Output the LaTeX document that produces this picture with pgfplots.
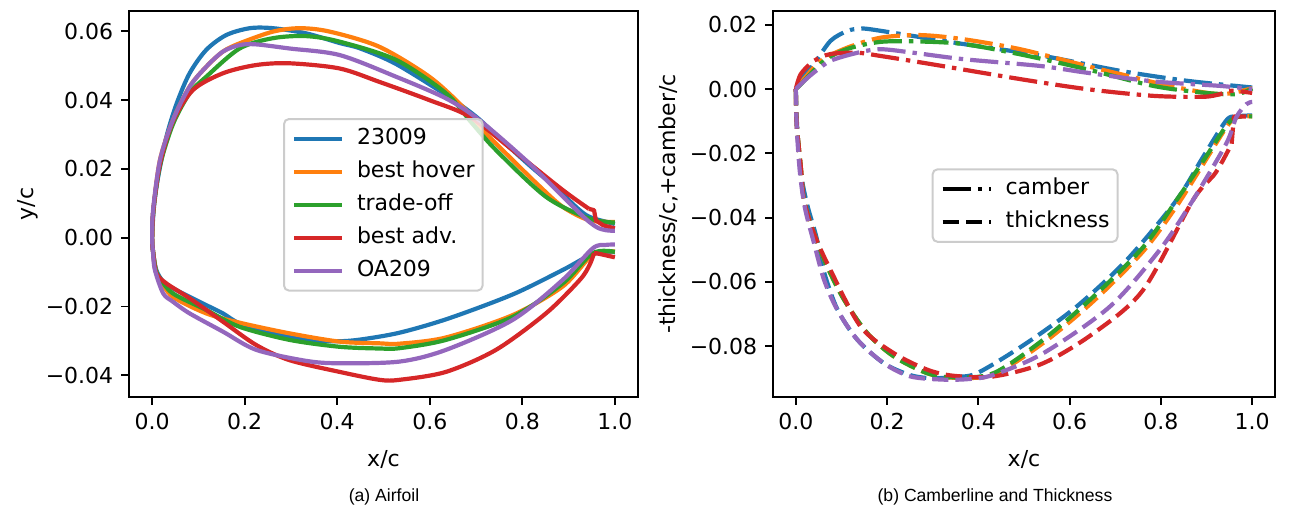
\documentclass[border=0pt]{standalone}
\usepackage{pgfplots}
\pgfplotsset{compat=1.18}
\usepackage{fontspec}
\setmainfont{DejaVu Sans}
\newfontfamily\capfont{Liberation Sans}
\definecolor{C0}{HTML}{1F77B4}
\definecolor{C1}{HTML}{FF7F0E}
\definecolor{C2}{HTML}{2CA02C}
\definecolor{C3}{HTML}{D62728}
\definecolor{C4}{HTML}{9467BD}
\tikzset{
  mpldashed/.style={dash pattern=on 8.14pt off 3.52pt},
  mpldashdot/.style={dash pattern=on 14.1pt off 3.52pt on 2.2pt off 3.52pt},
}
\pgfplotsset{
  mplaxis/.style={
    scale only axis, height=193pt,
    xmin=-0.05, xmax=1.05,
    axis line style={line width=0.88pt},
    tick style={line width=0.88pt, black},
    major tick length=3.85pt,
    tick align=outside, tick pos=left,
    xtick={0,0.2,0.4,0.6,0.8,1.0},
    xticklabels={0.0,0.2,0.4,0.6,0.8,1.0},
    tick label style={font=\fontsize{11}{13}\selectfont, inner sep=0pt},
    xticklabel style={anchor=north, yshift=-3.85pt},
    yticklabel style={anchor=east, xshift=-3.85pt},
    label style={font=\fontsize{11}{13}\selectfont},
    xlabel={x/c},
    xlabel style={at={(axis description cs:0.5,-0.1632)}, anchor=center},
    every axis plot/.append style={line width=2.1pt, line join=round},
    legend cell align=left,
    legend image code/.code={\draw[##1, line width=2.1pt] (0pt,0pt) -- (24pt,0pt);},
    legend style={draw=black!20, line width=1pt, rounded corners=2.5pt, fill=white,
      fill opacity=0.8, text opacity=1, draw opacity=1,
      font=\fontsize{11}{13}\selectfont, inner xsep=4pt, inner ysep=4.4pt,
      row sep=5.5pt,
      nodes={inner sep=0pt, text height=8.25pt, text depth=2.75pt},
      /tikz/every odd column/.append style={column sep=6.4pt}},
  }
}
\begin{document}
\begin{tikzpicture}[x=1pt,y=1pt]
\path[use as bounding box] (0,0) rectangle (646,260);
% ---------------- left panel ----------------
\begin{axis}[mplaxis, at={(64.5pt,61.5pt)}, anchor=south west, width=254.5pt,
  ymin=-0.0463, ymax=0.0659,
  ytick={-0.04,-0.02,0,0.02,0.04,0.06},
  yticklabels={−0.04,−0.02,0.00,0.02,0.04,0.06},
  ylabel={y/c},
  ylabel style={at={(axis description cs:-0.198,0.5)}, anchor=center, rotate=0},
  legend style={at={(axis description cs:0.3026,0.7228)}, anchor=north west},
]
\addplot[C0, smooth, tension=0.5] coordinates {
(1.000,0.0040)(0.950,0.0058)(0.924,0.0080)(0.870,0.0148)(0.815,0.0211)(0.750,0.0290)
(0.700,0.0352)(0.635,0.0415)(0.527,0.0505)(0.450,0.0550)(0.405,0.0566)(0.333,0.0594)
(0.261,0.0609)(0.211,0.0609)(0.160,0.0589)(0.117,0.0546)(0.081,0.0478)(0.053,0.0390)
(0.031,0.0294)(0.013,0.0177)(0.004,0.0090)(0.000,0.0000)(0.002,-0.0040)(0.009,-0.0094)
(0.024,-0.0128)(0.045,-0.0147)(0.081,-0.0172)(0.117,-0.0196)(0.153,-0.0220)(0.189,-0.0249)
(0.261,-0.0278)(0.333,-0.0297)(0.400,-0.0301)(0.450,-0.0296)(0.535,-0.0276)(0.640,-0.0235)
(0.779,-0.0165)(0.887,-0.0094)(0.952,-0.0048)(1.000,-0.0042)};
\addlegendentry{23009}
\addplot[C1, smooth, tension=0.5] coordinates {
(1.000,0.0046)(0.944,0.0051)(0.887,0.0090)(0.833,0.0155)(0.779,0.0226)(0.720,0.0305)
(0.671,0.0381)(0.599,0.0468)(0.491,0.0555)(0.384,0.0599)(0.319,0.0609)(0.261,0.0599)
(0.189,0.0565)(0.153,0.0541)(0.117,0.0497)(0.081,0.0439)(0.045,0.0342)(0.017,0.0226)
(0.003,0.0085)(0.000,0.0000)(0.002,-0.0040)(0.008,-0.0095)(0.017,-0.0123)(0.045,-0.0172)
(0.117,-0.0220)(0.189,-0.0247)(0.297,-0.0278)(0.405,-0.0302)(0.491,-0.0307)(0.535,-0.0308)
(0.635,-0.0290)(0.779,-0.0225)(0.887,-0.0142)(0.952,-0.0050)(1.000,-0.0040)};
\addlegendentry{best hover}
\addplot[C2, smooth, tension=0.5] coordinates {
(1.000,0.0044)(0.944,0.0056)(0.851,0.0119)(0.743,0.0255)(0.690,0.0335)(0.635,0.0420)
(0.527,0.0517)(0.405,0.0570)(0.333,0.0586)(0.261,0.0580)(0.189,0.0550)(0.117,0.0468)
(0.081,0.0420)(0.045,0.0330)(0.017,0.0210)(0.003,0.0085)(0.000,0.0000)(0.002,-0.0040)
(0.008,-0.0095)(0.017,-0.0118)(0.045,-0.0162)(0.117,-0.0210)(0.189,-0.0259)(0.297,-0.0297)
(0.405,-0.0317)(0.491,-0.0322)(0.535,-0.0321)(0.635,-0.0297)(0.779,-0.0230)(0.887,-0.0133)
(0.952,-0.0045)(1.000,-0.0041)};
\addlegendentry{trade-off}
\addplot[C3, smooth, tension=0.5] coordinates {
(0.944,0.0084)(0.887,0.0139)(0.779,0.0255)(0.686,0.0352)(0.599,0.0400)(0.491,0.0453)
(0.405,0.0492)(0.297,0.0507)(0.225,0.0502)(0.153,0.0478)(0.088,0.0429)(0.045,0.0338)
(0.017,0.0215)(0.003,0.0085)(0.000,0.0000)(0.002,-0.0040)(0.009,-0.0103)(0.031,-0.0133)
(0.081,-0.0176)(0.153,-0.0244)(0.225,-0.0312)(0.297,-0.0356)(0.405,-0.0390)(0.491,-0.0413)
(0.535,-0.0413)(0.635,-0.0390)(0.743,-0.0326)(0.851,-0.0220)(0.924,-0.0123)(0.945,-0.0080)
(0.955,-0.0045)};
\addlegendentry{best adv.}
\addplot[C3, forget plot] coordinates {(1.000,0.0027)(0.975,0.0036)(0.959,0.0050)(0.955,0.0080)(0.944,0.0084)};
\addplot[C3, forget plot] coordinates {(0.955,-0.0045)(0.960,-0.0045)(1.000,-0.0057)};
\addplot[C4, smooth, tension=0.5] coordinates {
(1.000,0.0020)(0.980,0.0022)(0.959,0.0032)(0.924,0.0071)(0.815,0.0216)(0.707,0.0342)
(0.635,0.0405)(0.527,0.0468)(0.405,0.0531)(0.297,0.0550)(0.225,0.0562)(0.189,0.0560)
(0.153,0.0541)(0.117,0.0497)(0.081,0.0439)(0.045,0.0342)(0.017,0.0226)(0.002,0.0080)
(0.000,0.0000)(0.002,-0.0045)(0.006,-0.0094)(0.024,-0.0162)(0.045,-0.0186)(0.081,-0.0220)
(0.153,-0.0273)(0.225,-0.0326)(0.333,-0.0358)(0.405,-0.0365)(0.535,-0.0360)(0.635,-0.0326)
(0.779,-0.0239)(0.887,-0.0123)(0.952,-0.0031)(0.980,-0.0021)(1.000,-0.0020)};
\addlegendentry{OA209}
\end{axis}
% ---------------- right panel ----------------
\begin{axis}[mplaxis, at={(386.5pt,61.5pt)}, anchor=south west, width=251pt,
  ymin=-0.0958, ymax=0.0243,
  ytick={-0.08,-0.06,-0.04,-0.02,0,0.02},
  yticklabels={−0.08,−0.06,−0.04,−0.02,0.00,0.02},
  ylabel={-thickness/c,+camber/c},
  ylabel style={at={(axis description cs:-0.208,0.5)}, anchor=center},
  legend style={at={(axis description cs:0.316,0.5925)}, anchor=north west},
]
\addlegendimage{black, line width=2.1pt, mpldashdot}
\addlegendentry{camber}
\addlegendimage{black, line width=2.1pt, mpldashed}
\addlegendentry{thickness}
% cambers
\addplot[C0, mpldashdot, smooth, tension=0.5, forget plot] coordinates {
(0,0)(0.004,0.0010)(0.020,0.0045)(0.040,0.0078)(0.076,0.0150)(0.113,0.0181)(0.140,0.0188)
(0.164,0.0186)(0.258,0.0165)(0.368,0.0140)(0.535,0.0105)(0.710,0.0057)(0.856,0.0026)(1.000,0.0005)};
\addplot[C1, mpldashdot, smooth, tension=0.5, forget plot] coordinates {
(0,0)(0.011,0.0020)(0.055,0.0088)(0.113,0.0129)(0.186,0.0160)(0.273,0.0168)(0.368,0.0155)
(0.492,0.0124)(0.637,0.0072)(0.710,0.0047)(0.819,0.0010)(0.929,-0.0016)(1.000,0.0003)};
\addplot[C2, mpldashdot, smooth, tension=0.5, forget plot] coordinates {
(0,0)(0.011,0.0015)(0.062,0.0088)(0.113,0.0125)(0.186,0.0147)(0.273,0.0148)(0.368,0.0140)
(0.492,0.0108)(0.637,0.0062)(0.783,0.0010)(0.892,-0.0011)(0.965,-0.0016)(1.000,0.0002)};
\addplot[C3, mpldashdot, smooth, tension=0.5, forget plot] coordinates {
(0,0)(0.011,0.0047)(0.040,0.0088)(0.076,0.0109)(0.135,0.0113)(0.186,0.0103)(0.295,0.0078)
(0.492,0.0031)(0.637,0.0000)(0.783,-0.0021)(0.892,-0.0024)(0.929,-0.0016)(0.955,-0.0005)(1.000,-0.0012)};
\addplot[C4, mpldashdot, smooth, tension=0.5, forget plot] coordinates {
(0,0)(0.018,0.0025)(0.040,0.0052)(0.076,0.0088)(0.135,0.0113)(0.186,0.0124)(0.258,0.0113)
(0.368,0.0093)(0.535,0.0072)(0.637,0.0051)(0.783,0.0024)(0.929,0.0010)(1.000,0.0000)};
% thickness
\addplot[C0, mpldashed, smooth, tension=0.5, forget plot] coordinates {
(0,0)(0.003,-0.0120)(0.011,-0.0260)(0.025,-0.0360)(0.045,-0.0460)(0.062,-0.0570)(0.091,-0.0685)
(0.135,-0.0780)(0.193,-0.0853)(0.251,-0.0890)(0.300,-0.0900)(0.346,-0.0895)(0.397,-0.0884)
(0.506,-0.0790)(0.615,-0.0677)(0.725,-0.0532)(0.834,-0.0346)(0.892,-0.0212)(0.943,-0.0098)
(0.965,-0.0085)(1.000,-0.0082)};
\addplot[C1, mpldashed, smooth, tension=0.5, forget plot] coordinates {
(0,0)(0.002,-0.0110)(0.011,-0.0243)(0.018,-0.0346)(0.040,-0.0450)(0.069,-0.0553)(0.106,-0.0656)
(0.157,-0.0760)(0.215,-0.0832)(0.288,-0.0884)(0.346,-0.0898)(0.433,-0.0888)(0.542,-0.0790)
(0.652,-0.0660)(0.761,-0.0505)(0.834,-0.0365)(0.892,-0.0235)(0.943,-0.0120)(0.965,-0.0088)(1.000,-0.0085)};
\addplot[C2, mpldashed, smooth, tension=0.5, forget plot] coordinates {
(0,0)(0.002,-0.0110)(0.011,-0.0243)(0.018,-0.0346)(0.040,-0.0450)(0.069,-0.0553)(0.106,-0.0656)
(0.157,-0.0760)(0.215,-0.0832)(0.288,-0.0884)(0.346,-0.0897)(0.433,-0.0884)(0.542,-0.0780)
(0.652,-0.0646)(0.761,-0.0492)(0.834,-0.0346)(0.892,-0.0225)(0.943,-0.0115)(0.965,-0.0088)(1.000,-0.0085)};
\addplot[C3, mpldashed, smooth, tension=0.5, forget plot] coordinates {
(0,0)(0.002,-0.0110)(0.011,-0.0243)(0.018,-0.0346)(0.040,-0.0450)(0.076,-0.0563)(0.142,-0.0739)
(0.215,-0.0822)(0.288,-0.0873)(0.346,-0.0892)(0.433,-0.0894)(0.542,-0.0853)(0.652,-0.0760)
(0.761,-0.0625)(0.870,-0.0346)(0.920,-0.0260)(0.955,-0.0170)};
\addplot[C3, mpldashed, forget plot] coordinates {(0.955,-0.0170)(0.960,-0.0085)(1.000,-0.0085)};
\addplot[C4, mpldashed, smooth, tension=0.5, forget plot] coordinates {
(0,0)(0.002,-0.0120)(0.009,-0.0260)(0.020,-0.0370)(0.040,-0.0480)(0.062,-0.0594)(0.091,-0.0687)
(0.135,-0.0780)(0.193,-0.0853)(0.251,-0.0894)(0.324,-0.0904)(0.380,-0.0902)(0.433,-0.0889)
(0.542,-0.0822)(0.688,-0.0677)(0.797,-0.0501)(0.870,-0.0346)(0.943,-0.0170)(0.965,-0.0088)
(0.987,-0.0047)(1.000,-0.0040)};
\end{axis}
\node[font=\capfont\fontsize{8.8}{10}\selectfont, anchor=center] at (192,11.5) {(a)\ Airfoil};
\node[font=\capfont\fontsize{8.8}{10}\selectfont, anchor=center] at (497.5,11.5) {(b)\ Camberline and Thickness};
\end{tikzpicture}
\end{document}
